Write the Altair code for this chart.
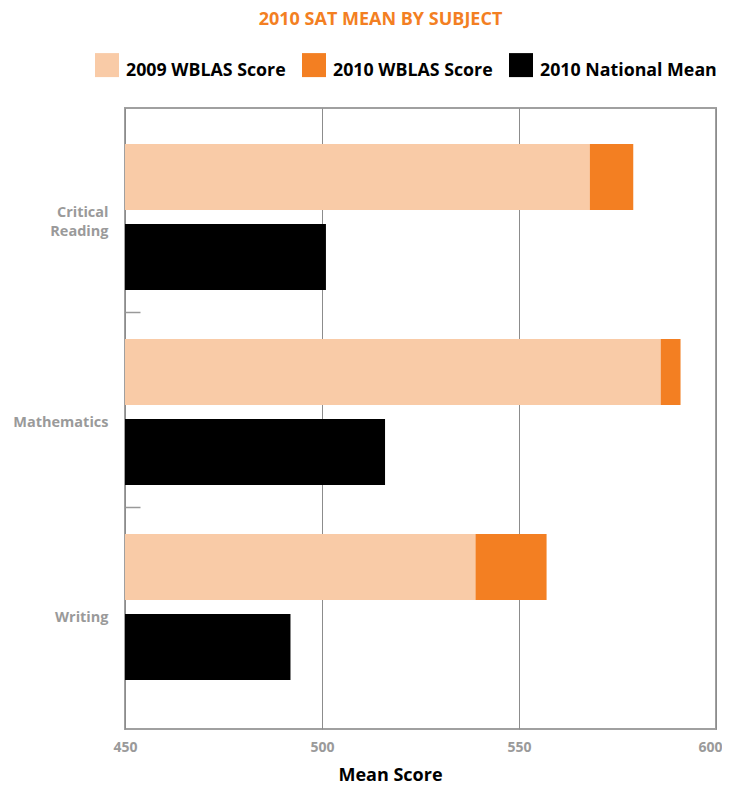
import altair as alt
import pandas as pd

subjects = ["Critical Reading", "Mathematics", "Writing"]
series_names = ["2009 WBLAS Score", "2010 WBLAS Score", "2010 National Mean"]
series_colors = ["#F9CBA7", "#F37F22", "#000000"]
wblas_2009 = [568, 586, 539]
wblas_2010 = [579, 591, 557]
national_2010 = [501, 516, 492]

rows = []
# 2010 drawn first so the 2009 bar overlays it
for s, v in zip(subjects, wblas_2010):
    rows.append({"subject": s, "slot": "WBLAS", "series": series_names[1], "value": v})
for s, v in zip(subjects, wblas_2009):
    rows.append({"subject": s, "slot": "WBLAS", "series": series_names[0], "value": v})
for s, v in zip(subjects, national_2010):
    rows.append({"subject": s, "slot": "National", "series": series_names[2], "value": v})
df = pd.DataFrame(rows)

FONT = "Open Sans"

chart = alt.Chart(df).mark_bar(stroke=None).encode(
    y=alt.Y("subject:N", sort=subjects, title=None,
            scale=alt.Scale(paddingInner=0, paddingOuter=0.0923, align=0.25),
            axis=alt.Axis(offset=-15, tickSize=15, domain=False, tickBand="extent",
                          tickColor="#999999", tickWidth=1.5,
                          tickOpacity={"condition": {"test": "datum.extra || datum.value == 'Writing'", "value": 0}, "value": 1},
                          labelPadding=17, labelColor="#9a9a9a", labelFontSize=14.5,
                          labelFontWeight="bold", labelFont=FONT,
                          labelOffset={"condition": {"test": "datum.value == 'Critical Reading'", "value": -1.5}, "value": 12.5},
                          labelLineHeight=19,
                          labelExpr="split(datum.label, ' ')", grid=False)),
    yOffset=alt.YOffset("slot:N", sort=["WBLAS", "National"],
                        scale=alt.Scale(paddingInner=0.175, paddingOuter=0.306, align=0.55)),
    x=alt.X("value:Q", title="Mean Score", stack=None,
            scale=alt.Scale(domain=[450, 600], zero=False, nice=False),
            axis=alt.Axis(values=[450, 500, 550, 600], tickSize=0, domain=False,
                          grid=True, gridColor="#8c8c8c", gridWidth=1,
                          labelPadding=11, labelColor="#9a9a9a", labelFontSize=14,
                          labelFontWeight="bold", labelFont=FONT, labelFlush=False,
                          labelAlign={"condition": {"test": "datum.value == 600", "value": "right"}, "value": "center"},
                          labelOffset={"condition": {"test": "datum.value == 600", "value": 6}, "value": 0},
                          titleFont=FONT, titleFontSize=18, titleFontWeight="bold",
                          titleColor="#000000", titlePadding=12, titleX=265)),
    x2=alt.datum(450),
    color=alt.Color("series:N",
                    scale=alt.Scale(domain=series_names, range=series_colors),
                    legend=alt.Legend(title=None, orient="none", direction="horizontal",
                                      legendX=-30, legendY=-55,
                                      symbolType="square", symbolSize=576,
                                      symbolStrokeWidth=0, symbolOpacity=1,
                                      labelFont=FONT, labelFontSize=17.8, labelLimit=0,
                                      labelFontWeight="bold", labelColor="#000000",
                                      labelBaseline="line-top",
                                      labelOffset=7, columnPadding=16)),
).properties(
    width=591,
    height=621,
    title=alt.TitleParams("2010 SAT MEAN BY SUBJECT", color="#F37F22", font=FONT,
                          fontSize=18, fontWeight="bold", anchor="middle",
                          offset=24, dx=-40),
    autosize=alt.AutoSizeParams(type="none"),
    padding={"left": 117, "top": 100, "right": 6, "bottom": 55},
).configure(
    style={"guide-label": {"lineHeight": 12}}
).configure_view(
    stroke="#a0a0a0", strokeWidth=2
)

chart.save("out.html", embed_options={"renderer": "svg", "actions": False})
